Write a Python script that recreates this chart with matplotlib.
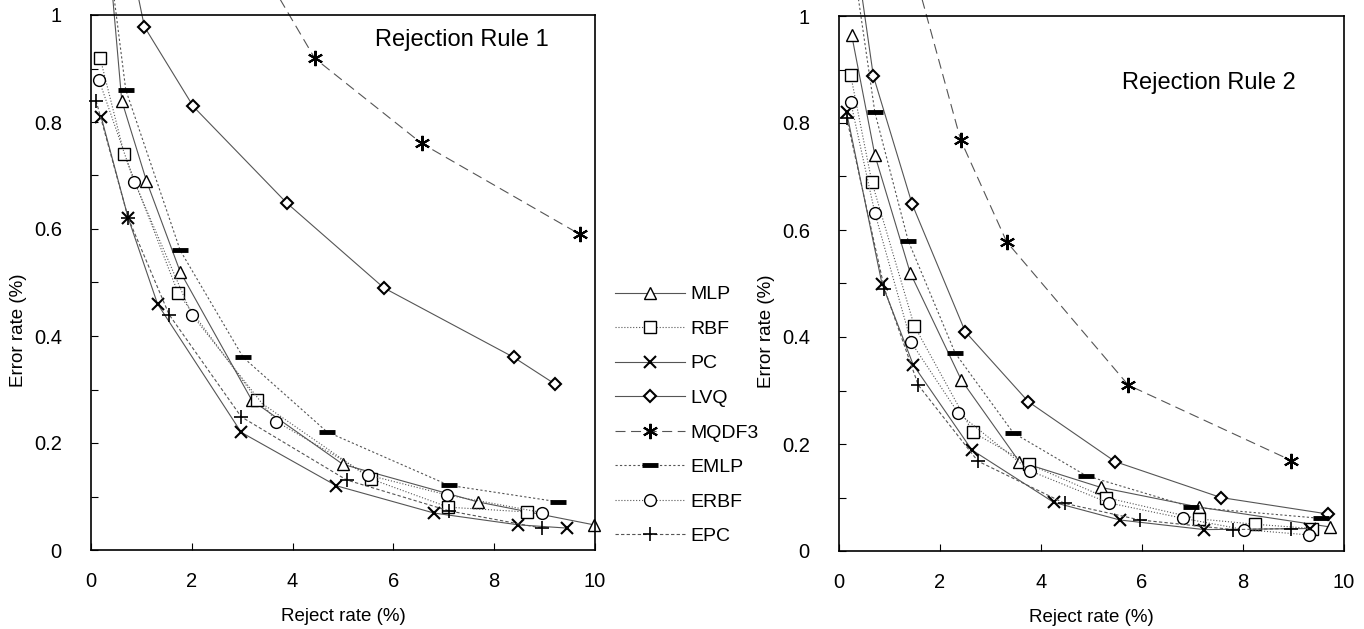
import matplotlib
matplotlib.use("Agg")
import matplotlib.pyplot as plt
from matplotlib.ticker import MultipleLocator

plt.rcParams['font.family'] = ['Liberation Sans', 'DejaVu Sans']

methods = ["MLP", "RBF", "PC", "LVQ", "MQDF3", "EMLP", "ERBF", "EPC"]

# Rejection rule 1: (reject rate %, error rate %) per method
# first point of some series lies above the plot (line runs off the top)
r1_mlp_x = [0.35, 0.61, 1.1, 1.77, 3.19, 5.0, 7.67, 9.98]
r1_mlp_y = [1.12, 0.84, 0.69, 0.52, 0.28, 0.16, 0.09, 0.047]
r1_rbf_x = [0.18, 0.66, 1.73, 3.3, 5.55, 7.09, 8.66]
r1_rbf_y = [0.92, 0.74, 0.48, 0.28, 0.133, 0.08, 0.071]
r1_pc_x = [0.2, 0.74, 1.32, 2.98, 4.87, 6.81, 8.48, 9.44]
r1_pc_y = [0.81, 0.62, 0.46, 0.22, 0.12, 0.069, 0.047, 0.041]
r1_lvq_x = [0.75, 1.06, 2.03, 3.88, 5.81, 8.39, 9.21]
r1_lvq_y = [1.12, 0.978, 0.829, 0.649, 0.49, 0.36, 0.31]
r1_mqdf_x = [3.0, 4.44, 6.56, 9.7]
r1_mqdf_y = [1.15, 0.919, 0.76, 0.59]
r1_emlp_x = [0.3, 0.69, 1.77, 3.02, 4.68, 7.1, 9.27]
r1_emlp_y = [1.15, 0.86, 0.56, 0.36, 0.221, 0.121, 0.09]
r1_erbf_x = [0.16, 0.86, 2.0, 3.68, 5.5, 7.06, 8.95]
r1_erbf_y = [0.878, 0.688, 0.44, 0.24, 0.14, 0.103, 0.07]
r1_epc_x = [0.1, 0.74, 1.55, 2.98, 5.07, 7.11, 8.94]
r1_epc_y = [0.84, 0.62, 0.44, 0.249, 0.131, 0.073, 0.041]

# Rejection rule 2
r2_mlp_x = [0.25, 0.71, 1.41, 2.42, 3.57, 5.18, 7.13, 9.72]
r2_mlp_y = [0.965, 0.74, 0.52, 0.32, 0.167, 0.119, 0.082, 0.045]
r2_rbf_x = [0.23, 0.65, 1.49, 2.65, 3.77, 5.28, 7.12, 8.24, 9.37]
r2_rbf_y = [0.89, 0.69, 0.421, 0.222, 0.162, 0.10, 0.06, 0.05, 0.042]
r2_pc_x = [0.15, 0.85, 1.47, 2.63, 4.25, 5.56, 7.23, 9.33]
r2_pc_y = [0.82, 0.50, 0.348, 0.189, 0.091, 0.058, 0.04, 0.042]
r2_lvq_x = [0.33, 0.68, 1.45, 2.5, 3.75, 5.47, 7.56, 9.69]
r2_lvq_y = [1.12, 0.888, 0.648, 0.41, 0.279, 0.167, 0.10, 0.069]
r2_mqdf_x = [1.3, 2.41, 3.32, 5.73, 8.96]
r2_mqdf_y = [1.15, 0.768, 0.578, 0.31, 0.169]
r2_emlp_x = [0.25, 0.71, 1.37, 2.3, 3.45, 4.89, 6.98, 9.54]
r2_emlp_y = [1.12, 0.82, 0.58, 0.37, 0.221, 0.141, 0.082, 0.061]
r2_erbf_x = [0.23, 0.71, 1.43, 2.36, 3.78, 5.34, 6.82, 8.02, 9.31]
r2_erbf_y = [0.84, 0.632, 0.39, 0.258, 0.15, 0.09, 0.061, 0.04, 0.03]
r2_epc_x = [0.15, 0.9, 1.57, 2.75, 4.47, 5.96, 7.81, 8.96]
r2_epc_y = [0.81, 0.49, 0.31, 0.168, 0.089, 0.058, 0.04, 0.042]

rule1 = [(r1_mlp_x, r1_mlp_y), (r1_rbf_x, r1_rbf_y), (r1_pc_x, r1_pc_y),
         (r1_lvq_x, r1_lvq_y), (r1_mqdf_x, r1_mqdf_y), (r1_emlp_x, r1_emlp_y),
         (r1_erbf_x, r1_erbf_y), (r1_epc_x, r1_epc_y)]
rule2 = [(r2_mlp_x, r2_mlp_y), (r2_rbf_x, r2_rbf_y), (r2_pc_x, r2_pc_y),
         (r2_lvq_x, r2_lvq_y), (r2_mqdf_x, r2_mqdf_y), (r2_emlp_x, r2_emlp_y),
         (r2_erbf_x, r2_erbf_y), (r2_epc_x, r2_epc_y)]

# line style / marker for each method
styles = {
    "MLP":   dict(ls='-', marker='^', ms=9, mfc='white'),
    "RBF":   dict(ls=':', marker='s', ms=8.5, mfc='white'),
    "PC":    dict(ls='-', marker='x', ms=9, mew=1.5),
    "LVQ":   dict(ls='-', marker='D', ms=6.5, mfc='white', mew=1.5),
    "MQDF3": dict(ls=(0, (9, 5)), marker=(6, 2, 0), ms=11, mew=1.5),
    "EMLP":  dict(ls=(0, (2, 2)), marker='_', ms=11, mew=3.5),
    "ERBF":  dict(ls=':', marker='o', ms=8.5, mfc='white'),
    "EPC":   dict(ls=(0, (3, 2)), marker='+', ms=10, mew=1.2),
}

fig = plt.figure(figsize=(13.64, 6.29), dpi=100)
ax1 = fig.add_axes([91 / 1364, 79 / 629, 504 / 1364, 535 / 629])
ax2 = fig.add_axes([839 / 1364, 78 / 629, 505 / 1364, 535 / 629])

handles = []
for ax, data, title, tpos in [(ax1, rule1, "Rejection Rule 1", (0.563, 0.953)),
                              (ax2, rule2, "Rejection Rule 2", (0.56, 0.875))]:
    for name, (xs, ys) in zip(methods, data):
        st = dict(styles[name])
        ln, = ax.plot(xs, ys, color='#555555', lw=0.8, mec='black',
                      clip_on=False, label=name, **st)
        if ax is ax1:
            handles.append(ln)
    ax.set_xlim(0, 10)
    ax.set_ylim(0, 1)
    ax.xaxis.set_major_locator(MultipleLocator(2))
    ax.yaxis.set_minor_locator(MultipleLocator(0.1))
    ax.set_yticks([0, 0.2, 0.4, 0.6, 0.8, 1.0])
    ax.set_yticklabels(["0", "0.2", "0.4", "0.6", "0.8", "1"])
    ax.tick_params(which='both', direction='in', length=5, width=0.8, labelsize=14.5)
    ax.tick_params(axis='y', pad=21)
    ax.tick_params(axis='x', pad=16)
    for s in ax.spines.values():
        s.set_linewidth(1.2)
    ax.set_xlabel("Reject rate (%)", fontsize=13.5, labelpad=12)
    ax.set_ylabel("Error rate (%)", fontsize=13.5)
    ax.yaxis.set_label_coords(-0.127, 0.41)
    ax.text(tpos[0], tpos[1], title, transform=ax.transAxes, fontsize=17,
            ha='left', va='center')

fig.legend(handles=handles, loc='upper left', bbox_to_anchor=(607 / 1364, 1 - 278 / 629),
           frameon=False, fontsize=14, handlelength=3.6, labelspacing=0.87,
           handletextpad=0.3, borderaxespad=0)

fig.savefig("out.png", dpi=100)
